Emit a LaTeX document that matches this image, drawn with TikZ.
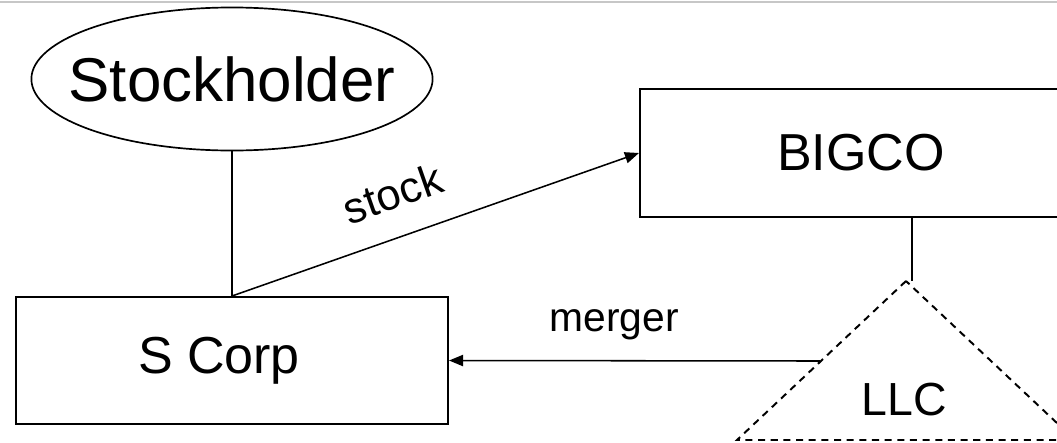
\documentclass[tikz,border=0pt]{standalone}
\usepackage{fontspec}
\setmainfont{Liberation Sans}
\usetikzlibrary{shapes.geometric,arrows.meta}
\begin{document}
\begin{tikzpicture}[x=0.025cm,y=-0.025cm,
    socio/.style={ellipse,draw,line width=1.2pt,inner xsep=-15.3pt,inner ysep=0pt,
        minimum width=10cm,minimum height=3.575cm,font=\fontsize{44pt}{50pt}\selectfont},
    empresa/.style={rectangle,draw,line width=1.4pt,inner sep=0pt,font=\fontsize{37pt}{44pt}\selectfont},
    seta/.style={line width=1.1pt,-{Triangle[length=10pt,width=8pt]}},
    liga/.style={line width=1.4pt},
    rotulo/.style={inner sep=0pt,font=\fontsize{29pt}{34pt}\selectfont},
    tracejado/.style={line width=1.4pt,dash pattern=on 5pt off 4pt}
]
\useasboundingbox (0,0) rectangle (1057,442);
\clip (0,0) rectangle (1057,442);
\draw[black!22,line width=2pt] (0,2) -- (1057,2);

\node[socio] (stockholder) at (232,79) {Stockholder};
\node[empresa,minimum width=10.8cm,minimum height=3.175cm] (scorp) at (232,360.5) {S Corp\hspace*{18.5pt}};
\node[empresa,minimum width=11.05cm,minimum height=3.2cm] (bigco) at (861,153) {BIGCO};

% LLC
\coordinate (llctopo) at (906,281);
\coordinate (llcesq) at (737,440);
\coordinate (llcdir) at (1075,440);
\coordinate (llcfusao) at (820,361);
\coordinate (llcliga) at (912,281);
\draw[tracejado] (llctopo) -- (llcesq) -- (llcdir) -- cycle;
\node[font=\fontsize{33pt}{40pt}\selectfont] (llc) at (904,400) {LLC};

\draw[liga] (stockholder) -- (scorp);
\draw[liga] (bigco.south -| llcliga) -- (llcliga);
\draw[seta] (scorp.north) -- node[rotulo,sloped,pos=0.43,above=19pt,font=\fontsize{31pt}{36pt}\selectfont] {stock} (bigco.west);
\draw[seta] (llcfusao) -- node[rotulo,pos=0.555,above=14pt] {merger} (scorp.east);
\end{tikzpicture}
\end{document}
